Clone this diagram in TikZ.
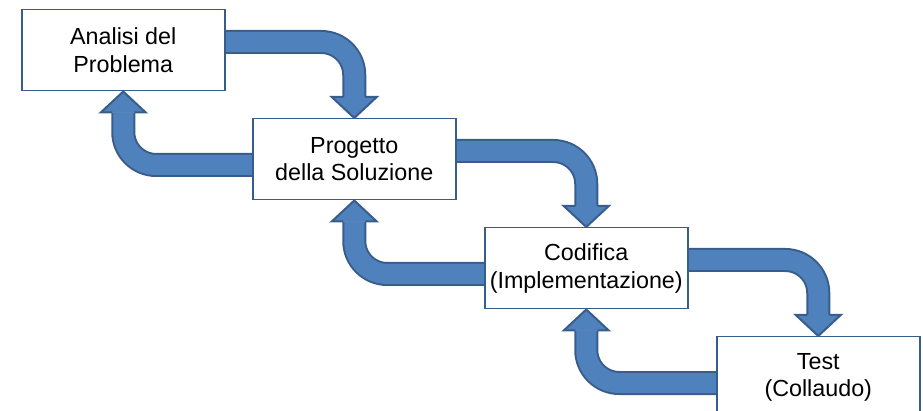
\documentclass[tikz,border=0pt]{standalone}
\usepackage{fontspec}
\setmainfont{Liberation Sans}
\usetikzlibrary{calc,backgrounds}
\definecolor{afill}{HTML}{4F81BD}
\definecolor{aline}{HTML}{385D8A}
\newcommand\fatarrow[4]{%
  \draw[aline, line width=24pt, rounded corners=33pt] (#1) -- (#2) -- (#3);
  \draw[afill, line width=20pt, rounded corners=33pt] (#1) -- (#2) -- (#3);
  \filldraw[fill=afill, draw=aline, line width=2pt, line join=miter]
    ($(#3)!11pt!90:(#4)$) -- ($(#3)!22.5pt!90:(#4)$) -- (#4) --
    ($(#3)!22.5pt!-90:(#4)$) -- ($(#3)!11pt!-90:(#4)$);
}
\begin{document}
\begin{tikzpicture}[x=1pt,y=-1pt,
  box/.style={draw=aline, line width=1.5pt, fill=white, minimum width=203pt,
    minimum height=81pt, align=center, inner sep=0pt,
    font=\fontsize{23.3}{27.7}\selectfont, anchor=north west}]
\useasboundingbox (0,0) rectangle (923,411);
\clip (0,0) rectangle (923,411);
\node[box] (p1) at (21,9) {Analisi del\\Problema};
\node[box] (p2) at (252,118) {Progetto\\della Soluzione};
\node[box] (p3) at (484,227) {Codifica\\(Implementazione)};
\node[box] (p4) at (716,336) {Test\\(Collaudo)};
% forward arrows
\coordinate (f1s) at ($(p1.north east)+(-2,33)$);
\coordinate (f1c) at (p2.north |- f1s);
\coordinate (f1t) at (p2.north);
\coordinate (f1b) at ($(p2.north)+(0,-21)$);
\coordinate (f2s) at ($(p2.north east)+(-2,33)$);
\coordinate (f2c) at (p3.north |- f2s);
\coordinate (f2t) at (p3.north);
\coordinate (f2b) at ($(p3.north)+(0,-21)$);
\coordinate (f3s) at ($(p3.north east)+(-2,33)$);
\coordinate (f3c) at (p4.north |- f3s);
\coordinate (f3t) at (p4.north);
\coordinate (f3b) at ($(p4.north)+(0,-21)$);
% backward arrows
\coordinate (b1s) at ($(p2.north west)+(2,47)$);
\coordinate (b1c) at (p1.south |- b1s);
\coordinate (b1t) at (p1.south);
\coordinate (b1b) at ($(p1.south)+(0,21)$);
\coordinate (b2s) at ($(p3.north west)+(2,47)$);
\coordinate (b2c) at (p2.south |- b2s);
\coordinate (b2t) at (p2.south);
\coordinate (b2b) at ($(p2.south)+(0,21)$);
\coordinate (b3s) at ($(p4.north west)+(2,47)$);
\coordinate (b3c) at (p3.south |- b3s);
\coordinate (b3t) at (p3.south);
\coordinate (b3b) at ($(p3.south)+(0,21)$);
\begin{scope}[on background layer]
\fatarrow{f1s}{f1c}{f1b}{f1t}
\fatarrow{f2s}{f2c}{f2b}{f2t}
\fatarrow{f3s}{f3c}{f3b}{f3t}
\fatarrow{b1s}{b1c}{b1b}{b1t}
\fatarrow{b2s}{b2c}{b2b}{b2t}
\fatarrow{b3s}{b3c}{b3b}{b3t}
\end{scope}
\end{tikzpicture}
\end{document}
